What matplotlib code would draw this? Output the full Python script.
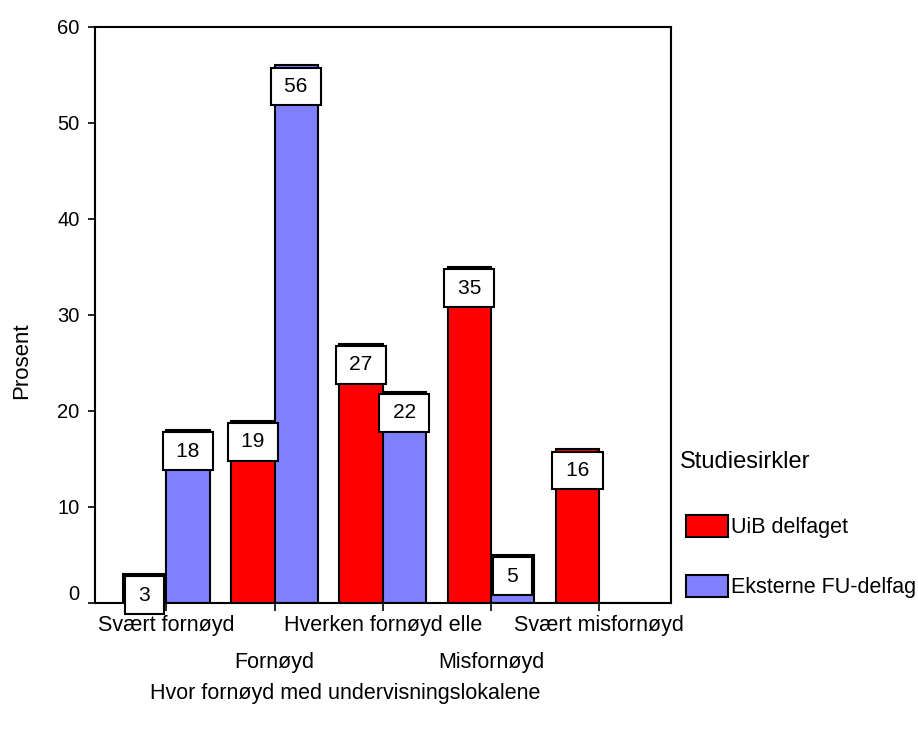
import numpy as np
import matplotlib
matplotlib.use('Agg')
import matplotlib.pyplot as plt
from matplotlib.transforms import ScaledTranslation

categories = ['Svært fornøyd', 'Fornøyd', 'Hverken fornøyd elle',
              'Misfornøyd', 'Svært misfornøyd']
uib = [3, 19, 27, 35, 16]
eksterne = [18, 56, 22, 5, 0]
series_names = ['UiB delfaget', 'Eksterne FU-delfag']
colors = ['#ff0000', '#8080ff']

plt.rcParams['font.family'] = ['Liberation Sans', 'DejaVu Sans']

fig = plt.figure(figsize=(9.18, 7.30), dpi=100)
ax = fig.add_axes([95/918, 127/730, 576/918, 576/730])

x = np.arange(len(categories))
w = 0.4
for vals, off, col, name in zip([uib, eksterne], [-w/2, w/2], colors, series_names):
    bars = ax.bar(x + off, vals, w, color=col, edgecolor='black',
                  linewidth=1.5, label=name, zorder=2)
    for b, v in zip(bars, vals):
        if v == 0:
            continue
        ax.annotate(f'\u2009{v}\u2009', (b.get_x() + b.get_width()/2, v),
                    xytext=(0, -8.3), textcoords='offset points',
                    ha='center', va='top', fontsize=15, zorder=3,
                    bbox=dict(boxstyle='square,pad=0.45', fc='white',
                              ec='black', lw=1.5))

ax.set_xlim(-0.66, 4.665)
ax.set_ylim(0, 60)
ax.set_yticks(np.arange(0, 61, 10))
for s in ax.spines.values():
    s.set_linewidth(1.5)
ax.tick_params(axis='y', labelsize=14.5, length=5, width=1.2, pad=6)
# the zero label sits a bit above the axis in the original
lab0 = ax.get_yticklabels()[0]
lab0.set_transform(lab0.get_transform() + ScaledTranslation(0, 0.11, fig.dpi_scale_trans))

ax.set_xticks(x[0::2])
ax.set_xticklabels(categories[0::2])
ax.set_xticks(x[1::2], minor=True)
ax.set_xticklabels(categories[1::2], minor=True)
ax.tick_params(axis='x', which='both', labelsize=15.5, length=6, width=1.2)
ax.tick_params(axis='x', which='major', pad=3)
ax.tick_params(axis='x', which='minor', pad=29)

ax.set_ylabel('Prosent', fontsize=16)
ax.yaxis.set_label_coords(-0.11, 0.42)
fig.text(345/918, 1 - 693/730, 'Hvor fornøyd med undervisningslokalene',
         ha='center', va='center', fontsize=15.5)

# legend title drawn on its own, entries below it
fig.text(680/918, 1 - 462/730, 'Studiesirkler', ha='left', va='center', fontsize=17)
ax.legend(loc='upper left',
          bbox_to_anchor=(686/918, 1 - 515/730), bbox_transform=fig.transFigure,
          frameon=False, fontsize=15.5, handlelength=1.95,
          handleheight=1.21, labelspacing=1.68, handletextpad=0.15,
          borderpad=0, borderaxespad=0)

fig.savefig('out.png', dpi=100)
